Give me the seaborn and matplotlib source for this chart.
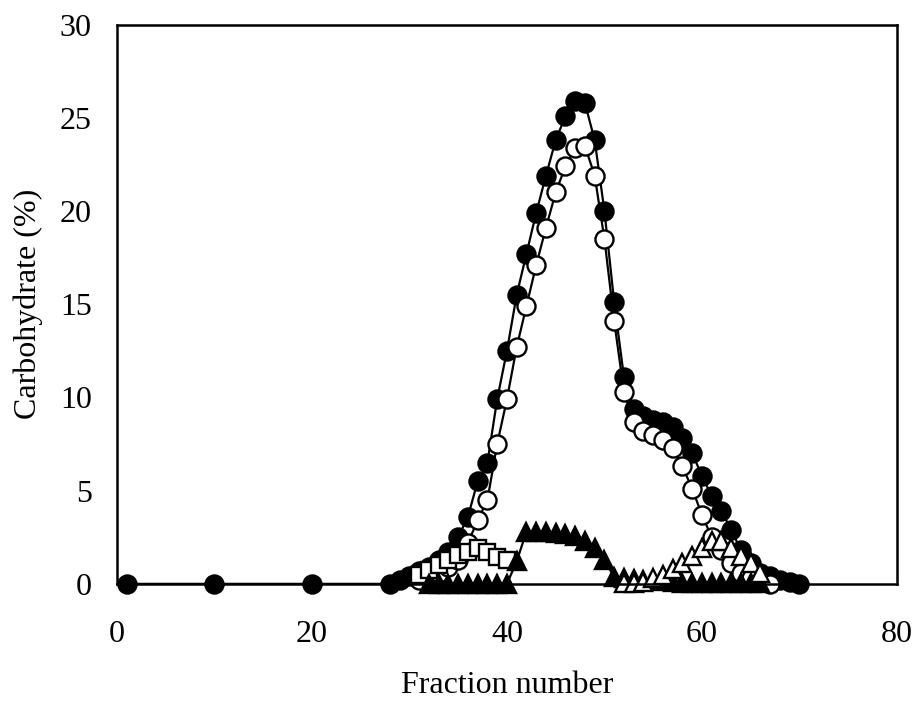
import numpy as np
import pandas as pd
import matplotlib
matplotlib.use("Agg")
import matplotlib.pyplot as plt
import seaborn as sns

# fraction numbers / carbohydrate (%)
frac_total = [1, 10, 20] + list(range(28, 71))
carb_total = [0, 0, 0,
              0.0, 0.2, 0.4, 0.7, 0.9, 1.3, 1.7, 2.5, 3.6, 5.5, 6.5, 9.9, 12.5,
              15.5, 17.7, 19.9, 21.9, 23.8, 25.1, 25.9, 25.8, 23.8, 20.0, 15.1,
              11.1, 9.4, 9.0, 8.8, 8.7, 8.4, 7.8, 7.0, 5.8, 4.7, 3.9, 2.9, 1.8,
              1.1, 0.6, 0.4, 0.2, 0.1, 0.0]

frac_open = list(range(31, 68))
carb_open = [0.2, 0.4, 0.6, 0.9, 1.3, 2.2, 3.4, 4.5, 7.5, 9.9, 12.7, 14.9,
             17.1, 19.1, 21.0, 22.4, 23.4, 23.5, 21.9, 18.5, 14.1, 10.3, 8.7,
             8.2, 8.0, 7.7, 7.3, 6.3, 5.1, 3.7, 2.5, 1.8, 1.1, 0.6, 0.3, 0.1, 0.0]

frac_square = list(range(31, 41))
carb_square = [0.5, 0.75, 1.0, 1.3, 1.55, 1.7, 1.9, 1.7, 1.45, 1.3]

frac_tri_fill = list(range(32, 67))
carb_tri_fill = [0, 0, 0, 0, 0, 0, 0, 0, 0, 1.2,
                 2.8, 2.8, 2.8, 2.75, 2.7, 2.55, 2.3, 1.9, 1.3, 0.35,
                 0.3, 0.25, 0.2, 0.2, 0.15, 0.1, 0.05, 0.05, 0.05, 0.05,
                 0.05, 0.05, 0.05, 0.05, 0.05]

frac_tri_open = list(range(52, 67))
carb_tri_open = [0.05, 0.05, 0.1, 0.3, 0.5, 0.8, 1.1, 1.5, 1.9, 2.3, 2.3,
                 1.9, 1.5, 1.1, 0.6]

sns.set_style("white")
plt.rcParams["font.family"] = ["Liberation Serif", "DejaVu Serif"]
plt.rcParams["text.color"] = "black"
plt.rcParams["axes.labelcolor"] = "black"

fig = plt.figure(figsize=(9.2, 7.06), dpi=100)
ax = fig.add_axes([0.127, 0.173, 0.848, 0.792])

common = dict(color="black", linewidth=1.6, markeredgecolor="black",
              markeredgewidth=1.7, sort=False, ax=ax)

sns.lineplot(x=frac_total, y=carb_total, marker="o", markersize=13,
             markerfacecolor="black", **common)
sns.lineplot(x=frac_open, y=carb_open, marker="o", markersize=13,
             markerfacecolor="white", **common)
sns.lineplot(x=frac_square, y=carb_square, marker="s", markersize=11.5,
             markerfacecolor="white", **common)
sns.lineplot(x=frac_tri_fill, y=carb_tri_fill, marker="^", markersize=13,
             markerfacecolor="black", **common)
sns.lineplot(x=frac_tri_open, y=carb_tri_open, marker="^", markersize=13,
             markerfacecolor="white", **common)

for ln in ax.lines:
    ln.set_clip_on(False)

ax.set_xlim(0, 80)
ax.set_ylim(0, 30)
ax.set_xticks([0, 20, 40, 60, 80])
ax.set_yticks([0, 5, 10, 15, 20, 25, 30])
ax.tick_params(direction="in", length=7, width=1.5, labelsize=23,
               colors="black")
ax.tick_params(axis="x", pad=26)
ax.tick_params(axis="y", pad=18)
for sp in ax.spines.values():
    sp.set_visible(True)
    sp.set_color("black")
    sp.set_linewidth(1.8)

ax.set_xlabel("Fraction number", fontsize=23, labelpad=16)
ax.set_ylabel("Carbohydrate (%)", fontsize=23, labelpad=12)

fig.savefig("out.png", dpi=100)
